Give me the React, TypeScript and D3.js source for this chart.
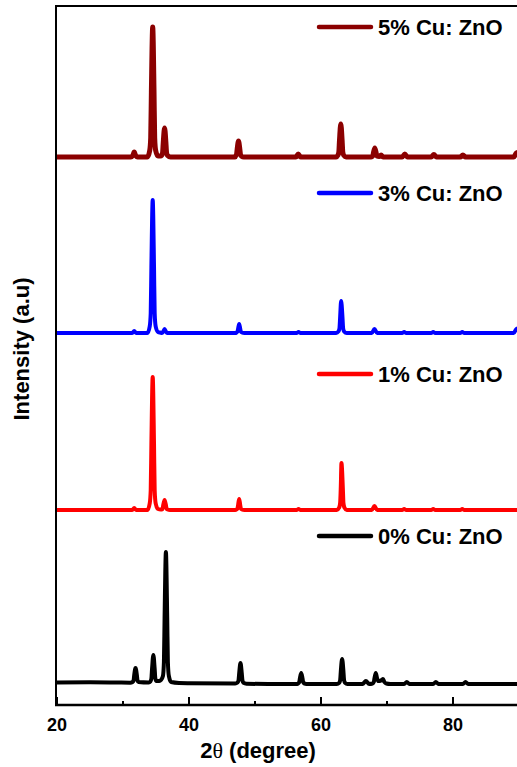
import React from "react";
import * as d3 from "d3";

const W = 517;
const H = 767;

const xTicksMajor = [20, 40, 60, 80];
const xTicksMinor = [30, 50, 70];

const seriesNames = ["0% Cu: ZnO", "1% Cu: ZnO", "3% Cu: ZnO", "5% Cu: ZnO"];
const seriesColors = ["#000000", "#ff0000", "#0000ff", "#8b0000"];
const seriesOffsets = [21, 195, 372, 548];

const zno0: [number, number][] = [
  [20, 1.5], [25, 1.8], [29, 1.5], [31.1, 1.3],
  [31.45, 2], [31.6, 3.5], [31.7, 9], [31.9, 16], [32.1, 9], [32.2, 3.5], [32.35, 2],
  [33.9, 1.5],
  [34.15, 2.5], [34.3, 5.5], [34.4, 15], [34.6, 29], [34.8, 15], [34.9, 5.5], [35.05, 3],
  [35.5, 3],
  [35.75, 4], [36.05, 8], [36.2, 22], [36.3, 66], [36.5, 132], [36.7, 66], [36.8, 22], [36.95, 8], [37.3, 2],
  [38.5, 1], [40, 0.8], [47, 0.5],
  [47.35, 1.5], [47.5, 3.5], [47.6, 10.5], [47.8, 21], [48.0, 10.5], [48.1, 3.5], [48.25, 1.2], [48.7, 0.3],
  [52, 0], [56.4, 0],
  [56.55, 0.6], [56.7, 1.7], [56.8, 5.5], [57.0, 11], [57.2, 5.5], [57.3, 1.7], [57.45, 0.6], [57.8, 0],
  [62.4, 0],
  [62.75, 1.2], [62.9, 3.7], [63.0, 12.5], [63.2, 25], [63.4, 12.5], [63.5, 3.7], [63.65, 1.2], [64.0, 0],
  [66.3, 0], [66.8, 3], [67.3, 0],
  [67.8, 0.5], [68.0, 2], [68.1, 5.5], [68.3, 11], [68.5, 5.5], [68.7, 3], [68.9, 3], [69.2, 4], [69.4, 5],
  [69.6, 2], [69.9, 0.5], [70.5, 0],
  [72.6, 0], [73.0, 2], [73.4, 0], [77.0, 0], [77.4, 2], [77.8, 0], [81.5, 0], [81.9, 2], [82.3, 0], [90, 0],
];

const zno1: [number, number][] = [
  [20, 0], [31.4, 0], [31.7, 2], [32.0, 0], [33.7, 0],
  [34.05, 6.6], [34.2, 20], [34.3, 66], [34.5, 133], [34.7, 66], [34.8, 20], [34.95, 6.6], [35.3, 1], [35.7, 0.5],
  [35.9, 0.5], [36.0, 1.5], [36.1, 5], [36.3, 10], [36.5, 5], [36.6, 1.5], [36.75, 0.5], [37.1, 0],
  [47.0, 0],
  [47.2, 0.5], [47.35, 1.6], [47.45, 5.5], [47.6, 11], [47.75, 5.5], [47.85, 1.6], [48.0, 0.5], [48.4, 0],
  [56.3, 0], [56.6, 1], [56.9, 0],
  [62.4, 0],
  [62.75, 2.3], [62.9, 7], [63.0, 23.5], [63.1, 47], [63.3, 23.5], [63.4, 7], [63.55, 2.3], [63.9, 0],
  [67.7, 0], [68.1, 4], [68.5, 0], [72.3, 0], [72.6, 1], [72.9, 0], [76.7, 0], [77.0, 1], [77.3, 0],
  [81.1, 0], [81.4, 1], [81.7, 0], [90, 0],
];

const zno3: [number, number][] = [
  [20, 0], [31.4, 0], [31.7, 2], [32.0, 0], [33.7, 0],
  [34.05, 6.6], [34.2, 20], [34.3, 66], [34.5, 133], [34.7, 66], [34.8, 20], [34.95, 6.6], [35.3, 1], [35.7, 0.3],
  [35.9, 0], [36.1, 1.5], [36.3, 4], [36.5, 1.5], [36.7, 0],
  [47.0, 0],
  [47.2, 0.5], [47.35, 1.4], [47.45, 4.5], [47.6, 9], [47.75, 4.5], [47.85, 1.4], [48.0, 0.5], [48.4, 0],
  [56.3, 0], [56.6, 1], [56.9, 0],
  [62.3, 0],
  [62.65, 1.6], [62.8, 4.8], [62.9, 16], [63.05, 32], [63.25, 16], [63.35, 4.8], [63.5, 1.6], [63.9, 0],
  [67.7, 0], [68.1, 4], [68.5, 0], [72.3, 0], [72.6, 1], [72.9, 0], [76.7, 0], [77.0, 1], [77.3, 0],
  [81.1, 0], [81.4, 1], [81.7, 0], [89.2, 0], [89.6, 4], [90, 5],
];

const zno5: [number, number][] = [
  [20, 0], [31.2, 0], [31.45, 1], [31.55, 2.5], [31.7, 5], [31.85, 2.5], [31.95, 1], [32.2, 0], [33.7, 0],
  [34.05, 6.5], [34.2, 19.5], [34.3, 65], [34.5, 130], [34.7, 65], [34.8, 19.5], [34.95, 6.5], [35.3, 1], [35.7, 1],
  [35.85, 1.5], [36.0, 4.4], [36.1, 14.5], [36.3, 29], [36.5, 14.5], [36.6, 4.4], [36.75, 1.5], [37.2, 0],
  [47.0, 0],
  [47.05, 0.8], [47.2, 2.4], [47.3, 8], [47.5, 16], [47.7, 8], [47.8, 2.4], [47.95, 0.8], [48.3, 0],
  [56.2, 0], [56.55, 3], [56.9, 0],
  [62.3, 0],
  [62.55, 1.6], [62.7, 5], [62.8, 16.5], [63.0, 33], [63.2, 16.5], [63.3, 5], [63.45, 1.6], [63.8, 0],
  [67.6, 0], [67.85, 1], [67.95, 4.5], [68.15, 9], [68.35, 4.5], [68.45, 1], [68.8, 0.5], [69.1, 2], [69.4, 0],
  [72.3, 0], [72.7, 3], [73.1, 0], [76.7, 0], [77.1, 2.5], [77.5, 0], [81.1, 0], [81.5, 2], [81.9, 0],
  [89.2, 0], [89.6, 4], [90, 5],
];

const seriesData = [zno0, zno1, zno3, zno5];
const seriesWidths = [4, 4, 4, 5];
const legendY = [536, 374, 193, 27];

export default function App() {
  const left = 56;
  const top = 6;
  const bottom = 705;
  const x = d3.scaleLinear().domain([20, 90]).range([57, 57 + 70 * 6.6]);
  const y = d3.scaleLinear().domain([0, 700]).range([705, 5]);

  const line = (off: number) =>
    d3
      .line<[number, number]>()
      .x((d) => x(d[0]))
      .y((d) => y(d[1] + off))
      .curve(d3.curveMonotoneX);

  const font = "'Liberation Sans', Arial, sans-serif";

  return (
    <svg
      width={W}
      height={H}
      style={{ position: "absolute", left: 0, top: 0, background: "#fff" }}
      fontFamily={font}
    >
      <defs>
        <clipPath id="plot">
          <rect x={left} y={top} width={W - left} height={bottom - top} />
        </clipPath>
      </defs>
      <rect x={0} y={0} width={W} height={H} fill="#fff" />
      <g clipPath="url(#plot)">
        {seriesData.map((d, i) => (
          <path
            key={i}
            d={line(seriesOffsets[i])(d) || ""}
            fill="none"
            stroke={seriesColors[i]}
            strokeWidth={seriesWidths[i]}
            strokeLinejoin="round"
            strokeLinecap="round"
          />
        ))}
      </g>
      <line x1={left} x2={left} y1={top} y2={bottom} stroke="#000" strokeWidth={2} />
      <line x1={left - 1} x2={W} y1={top} y2={top} stroke="#000" strokeWidth={2} />
      <line x1={left - 1} x2={W} y1={bottom} y2={bottom} stroke="#000" strokeWidth={2.5} />
      {xTicksMajor.map((t) => (
        <g key={"M" + t}>
          <line x1={x(t)} x2={x(t)} y1={bottom} y2={bottom - 8} stroke="#000" strokeWidth={2} />
          <text x={x(t)} y={731} textAnchor="middle" fontSize={18} fontWeight="bold">
            {t}
          </text>
        </g>
      ))}
      {xTicksMinor.map((t) => (
        <line key={"m" + t} x1={x(t)} x2={x(t)} y1={bottom} y2={bottom - 4} stroke="#000" strokeWidth={2} />
      ))}
      <text x={258} y={758} textAnchor="middle" fontSize={22} fontWeight="bold">
        2<tspan fontFamily="'Liberation Serif', serif" fontWeight="normal">θ</tspan> (degree)
      </text>
      <text
        transform="translate(29,349) rotate(-90)"
        textAnchor="middle"
        fontSize={22}
        fontWeight="bold"
      >
        Intensity (a.u)
      </text>
      {seriesNames.map((n, i) => (
        <g key={n}>
          <line
            x1={319}
            x2={371}
            y1={legendY[i]}
            y2={legendY[i]}
            stroke={seriesColors[i]}
            strokeWidth={4.5}
            strokeLinecap="round"
          />
          <text x={378} y={legendY[i] + 8} fontSize={22} fontWeight="bold">
            {n}
          </text>
        </g>
      ))}
    </svg>
  );
}
